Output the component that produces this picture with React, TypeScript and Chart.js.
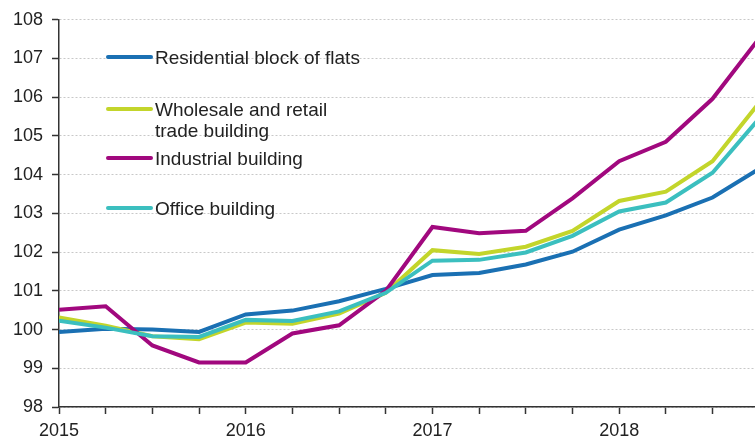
import React, { useEffect, useRef } from "react";
import { Chart, registerables } from "chart.js";

Chart.register(...registerables);

const QUARTERS = [
  "2015Q1", "2015Q2", "2015Q3", "2015Q4",
  "2016Q1", "2016Q2", "2016Q3", "2016Q4",
  "2017Q1", "2017Q2", "2017Q3", "2017Q4",
  "2018Q1", "2018Q2", "2018Q3", "2018Q4",
];
const YEAR_LABELS = ["2015", "2016", "2017", "2018"];
const Y_MIN = 98;
const Y_MAX = 108;

const RESIDENTIAL = [99.94, 100.02, 100.0, 99.94, 100.39, 100.49, 100.73, 101.05, 101.41, 101.46, 101.68, 102.01, 102.58, 102.95, 103.41, 104.15];
const WHOLESALE = [100.31, 100.1, 99.83, 99.75, 100.18, 100.15, 100.41, 100.95, 102.05, 101.95, 102.14, 102.55, 103.32, 103.56, 104.35, 105.86];
const INDUSTRIAL = [100.51, 100.6, 99.59, 99.15, 99.15, 99.9, 100.11, 101.0, 102.65, 102.49, 102.55, 103.39, 104.35, 104.85, 105.96, 107.52];
const OFFICE = [100.23, 100.05, 99.83, 99.81, 100.25, 100.22, 100.47, 100.95, 101.78, 101.8, 101.99, 102.42, 103.05, 103.28, 104.05, 105.45];

const SERIES_LABELS = [
  ["Residential block of flats"],
  ["Wholesale and retail", "trade building"],
  ["Industrial building"],
  ["Office building"],
];
const SERIES_VALUES = [RESIDENTIAL, WHOLESALE, INDUSTRIAL, OFFICE];
const SERIES_COLORS = ["#1a70b3", "#c3d52b", "#a1087e", "#3bbfbf"];
const SERIES_ORDER = [3, 2, 1, 0];

const FONT = '"Liberation Sans", Arial, sans-serif';
const LEGEND_Y = [57, 109, 158, 208];

const legendPlugin = {
  id: "customLegend",
  afterDatasetsDraw(chart: any) {
    const ctx = chart.ctx;
    ctx.save();
    chart.data.datasets.forEach((ds: any, i: number) => {
      const y = LEGEND_Y[i];
      ctx.strokeStyle = ds.borderColor;
      ctx.lineWidth = 4;
      ctx.lineCap = "round";
      ctx.beginPath();
      ctx.moveTo(108, y);
      ctx.lineTo(151, y);
      ctx.stroke();
      ctx.fillStyle = "#222";
      ctx.font = `19px ${FONT}`;
      ctx.textBaseline = "alphabetic";
      ctx.textAlign = "left";
      (ds.legendLines as string[]).forEach((line, j) => {
        ctx.fillText(line, 155, y + 7 + j * 21.3);
      });
    });
    ctx.restore();
  },
};

export default function App() {
  const canvasRef = useRef<HTMLCanvasElement | null>(null);

  useEffect(() => {
    if (!canvasRef.current) return;
    const chart = new Chart(canvasRef.current, {
      type: "line",
      data: {
        labels: QUARTERS,
        datasets: SERIES_VALUES.map((vals, i) => ({
          label: SERIES_LABELS[i].join(" "),
          legendLines: SERIES_LABELS[i],
          data: vals.map((v, k) => ({ x: k, y: v })),
          borderColor: SERIES_COLORS[i],
          backgroundColor: SERIES_COLORS[i],
          borderWidth: 4,
          pointRadius: 0,
          pointHoverRadius: 0,
          tension: 0,
          fill: false,
          order: SERIES_ORDER[i],
        })) as any,
      },
      options: {
        animation: false,
        responsive: true,
        maintainAspectRatio: false,
        layout: { padding: { top: 18, right: 0, left: 0, bottom: 0 } },
        plugins: {
          legend: { display: false },
          tooltip: { enabled: false },
        },
        scales: {
          x: {
            type: "linear",
            min: 0,
            max: 14.91,
            ticks: {
              stepSize: 1,
              includeBounds: false,
              autoSkip: false,
              maxRotation: 0,
              padding: 6,
              color: "#222",
              font: { family: FONT, size: 18 },
              callback: (value: any) => {
                const v = Number(value);
                return Number.isInteger(v) && v % 4 === 0 ? YEAR_LABELS[v / 4] : "";
              },
            },
            grid: {
              drawOnChartArea: false,
              drawTicks: true,
              tickLength: 7,
              tickColor: "#333",
              tickWidth: 1.5,
            },
            border: { display: true, color: "#333", width: 1.5 },
            afterFit: (scale: any) => {
              scale.height = 40;
            },
          },
          y: {
            min: Y_MIN,
            max: Y_MAX,
            ticks: {
              stepSize: 1,
              padding: 9,
              color: "#222",
              font: { family: FONT, size: 18 },
            },
            grid: {
              color: "#c8c8c8",
              lineWidth: 1,
              drawTicks: true,
              tickLength: 7,
              tickColor: "#333",
              tickWidth: 1.5,
              tickBorderDash: [],
            },
            border: { display: true, color: "#333", width: 1.5, dash: [2, 2] },
            afterFit: (scale: any) => {
              scale.width = 59;
            },
          },
        },
      },
      plugins: [legendPlugin],
    });
    return () => chart.destroy();
  }, []);

  return (
    <div style={{ position: "fixed", left: 0, top: 0, width: 755, height: 447, background: "#fff" }}>
      <canvas ref={canvasRef} />
    </div>
  );
}
